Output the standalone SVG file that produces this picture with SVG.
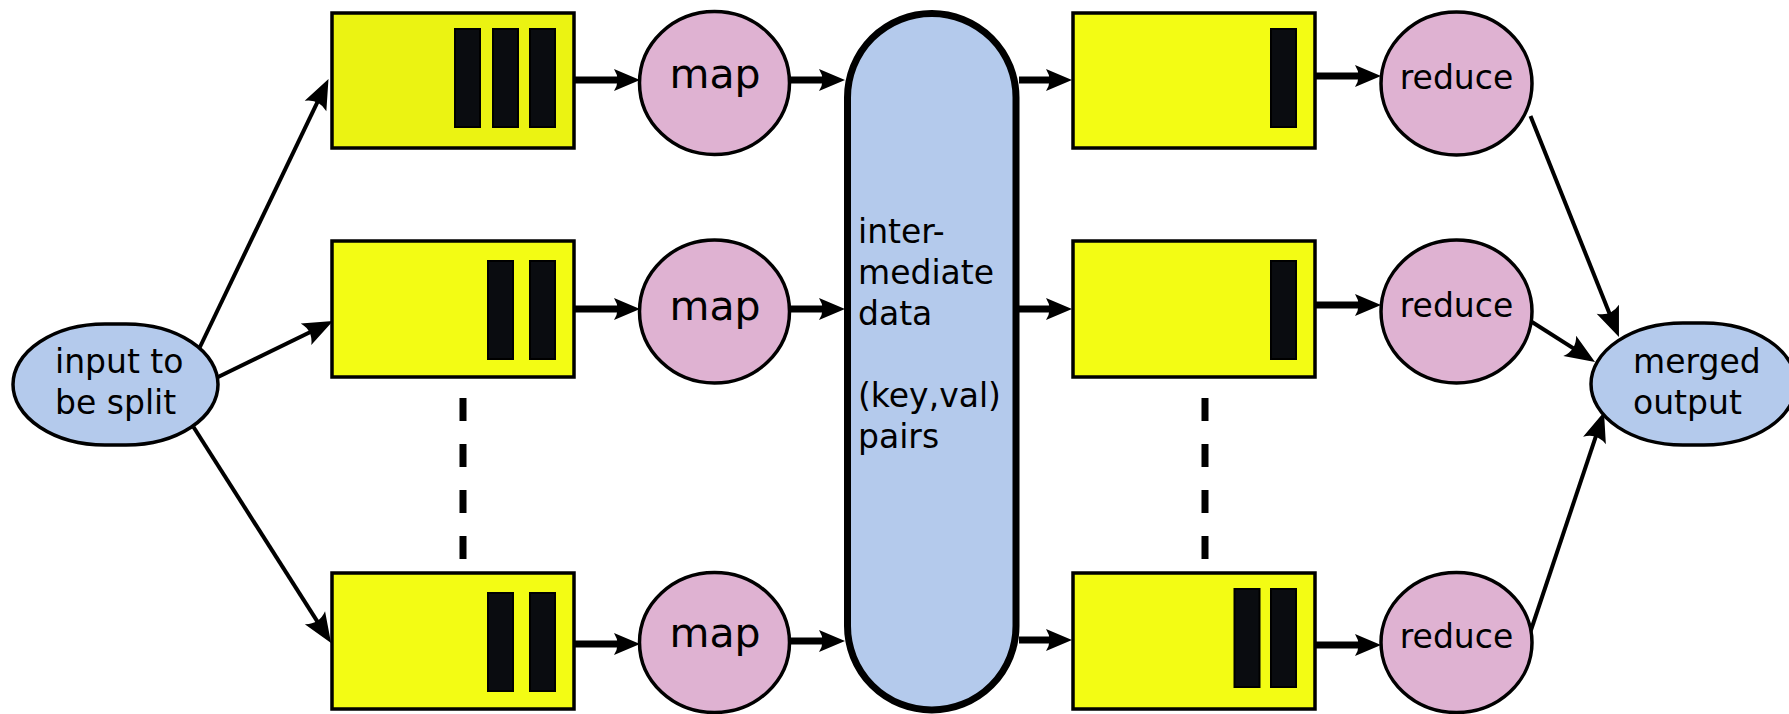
<svg xmlns="http://www.w3.org/2000/svg" width="1789" height="714" viewBox="0 0 1789 714">
<style>
.box{fill:#f3fc14;stroke:#000;stroke-width:3.5}
.bar{fill:#0a0c10;stroke:#000;stroke-width:2}
.proc{fill:#dfb2d2;stroke:#000;stroke-width:3.5}
.io{fill:#b4caec;stroke:#000;stroke-width:3.5}
.txt{font-family:"DejaVu Sans","Liberation Sans",sans-serif;fill:#000}
.thick{stroke:#000;stroke-width:7;fill:none;marker-end:url(#ah)}
.thin{stroke:#000;stroke-width:4;fill:none;marker-end:url(#aht)}
.dash{stroke:#000;stroke-width:7;stroke-dasharray:23 23;fill:none}
</style>
<defs>
<marker id="ah" markerUnits="userSpaceOnUse" markerWidth="28" markerHeight="26" refX="15" refY="13" orient="auto" overflow="visible">
<path d="M0,2 L26,13 L0,24 Q7,13 0,2 Z" fill="#000"/>
</marker>
<marker id="aht" markerUnits="userSpaceOnUse" markerWidth="32" markerHeight="26" refX="18" refY="13" orient="auto" overflow="visible">
<path d="M0,1 L30,13 L0,25 Q8,13 0,1 Z" fill="#000"/>
</marker>
</defs>
<rect width="1789" height="714" fill="#fff"/>

<g id="connectors">
<line class="thick" x1="574" y1="80" x2="629" y2="80"/>
<line class="thick" x1="790" y1="80" x2="834" y2="80"/>
<line class="thick" x1="1019" y1="80" x2="1061" y2="80"/>
<line class="thick" x1="1316" y1="76" x2="1370" y2="76"/>
<line class="thick" x1="574" y1="309" x2="629" y2="309"/>
<line class="thick" x1="790" y1="309" x2="834" y2="309"/>
<line class="thick" x1="1019" y1="309" x2="1061" y2="309"/>
<line class="thick" x1="1316" y1="305" x2="1370" y2="305"/>
<line class="thick" x1="574" y1="644" x2="629" y2="644"/>
<line class="thick" x1="790" y1="641" x2="834" y2="641"/>
<line class="thick" x1="1019" y1="640" x2="1061" y2="640"/>
<line class="thick" x1="1316" y1="645" x2="1370" y2="645"/>
<line class="thin" x1="199" y1="349" x2="323.3" y2="89.8"/>
<line class="thin" x1="216" y1="378" x2="322.2" y2="326.3"/>
<line class="thin" x1="193.5" y1="427" x2="324.6" y2="632.9"/>
<line class="thin" x1="1530.5" y1="116" x2="1614.5" y2="325.9"/>
<line class="thin" x1="1532" y1="322" x2="1584.9" y2="355.6"/>
<line class="thin" x1="1530" y1="633" x2="1600.2" y2="423.4"/>
<line class="dash" x1="463" y1="398" x2="463" y2="560"/>
<line class="dash" x1="1205" y1="398" x2="1205" y2="560"/>
</g>

<g id="input">
<rect class="io" x="13" y="324" width="205" height="121" rx="92" ry="60.5"/>
<text class="txt" font-size="33" x="55" y="373">input to</text>
<text class="txt" font-size="33" x="55" y="414">be split</text>
</g>

<g id="split1">
<rect class="box" x="332" y="13" width="242" height="135" style="fill:#ebf312"/>
<rect class="bar" x="455" y="29" width="25" height="98"/>
<rect class="bar" x="493" y="29" width="25" height="98"/>
<rect class="bar" x="530" y="29" width="25" height="98"/>
</g>
<g id="split2">
<rect class="box" x="332" y="241" width="242" height="136"/>
<rect class="bar" x="488" y="261" width="25" height="98"/>
<rect class="bar" x="530" y="261" width="25" height="98"/>
</g>
<g id="split3">
<rect class="box" x="332" y="573" width="242" height="136"/>
<rect class="bar" x="488" y="593" width="25" height="98"/>
<rect class="bar" x="530" y="593" width="25" height="98"/>
</g>

<g id="map1">
<ellipse class="proc" cx="714.5" cy="83" rx="75" ry="71.5"/>
<text class="txt" font-size="41" x="715" y="88" text-anchor="middle">map</text>
</g>
<g id="map2">
<ellipse class="proc" cx="714.5" cy="311.5" rx="75" ry="71.5"/>
<text class="txt" font-size="41" x="715" y="320" text-anchor="middle">map</text>
</g>
<g id="map3">
<ellipse class="proc" cx="714.5" cy="642.5" rx="75" ry="70"/>
<text class="txt" font-size="41" x="715" y="647" text-anchor="middle">map</text>
</g>

<g id="intermediate">
<rect class="io" x="847.5" y="13.5" width="168.5" height="696.5" rx="84" ry="84" style="stroke-width:7"/>
<text class="txt" font-size="33">
<tspan x="858" y="243">inter-</tspan>
<tspan x="858" y="284">mediate</tspan>
<tspan x="858" y="325">data</tspan>
<tspan x="858" y="407">(key,val)</tspan>
<tspan x="858" y="448">pairs</tspan>
</text>
</g>

<g id="part1">
<rect class="box" x="1073" y="13" width="242" height="135"/>
<rect class="bar" x="1271" y="29" width="25" height="98"/>
</g>
<g id="part2">
<rect class="box" x="1073" y="241" width="242" height="136"/>
<rect class="bar" x="1271" y="261" width="25" height="98"/>
</g>
<g id="part3">
<rect class="box" x="1073" y="573" width="242" height="136"/>
<rect class="bar" x="1234.5" y="589" width="25" height="98"/>
<rect class="bar" x="1271" y="589" width="25" height="98"/>
</g>

<g id="reduce1">
<ellipse class="proc" cx="1456.5" cy="83.5" rx="75.5" ry="71.5"/>
<text class="txt" font-size="33" x="1456.5" y="89" text-anchor="middle">reduce</text>
</g>
<g id="reduce2">
<ellipse class="proc" cx="1456.5" cy="311.5" rx="75.5" ry="71.5"/>
<text class="txt" font-size="33" x="1456.5" y="317" text-anchor="middle">reduce</text>
</g>
<g id="reduce3">
<ellipse class="proc" cx="1456.5" cy="642.5" rx="75.5" ry="70"/>
<text class="txt" font-size="33" x="1456.5" y="648" text-anchor="middle">reduce</text>
</g>

<g id="output">
<rect class="io" x="1591" y="323" width="205" height="122" rx="92" ry="61"/>
<text class="txt" font-size="33" x="1633" y="373">merged</text>
<text class="txt" font-size="33" x="1633" y="414">output</text>
</g>
</svg>
